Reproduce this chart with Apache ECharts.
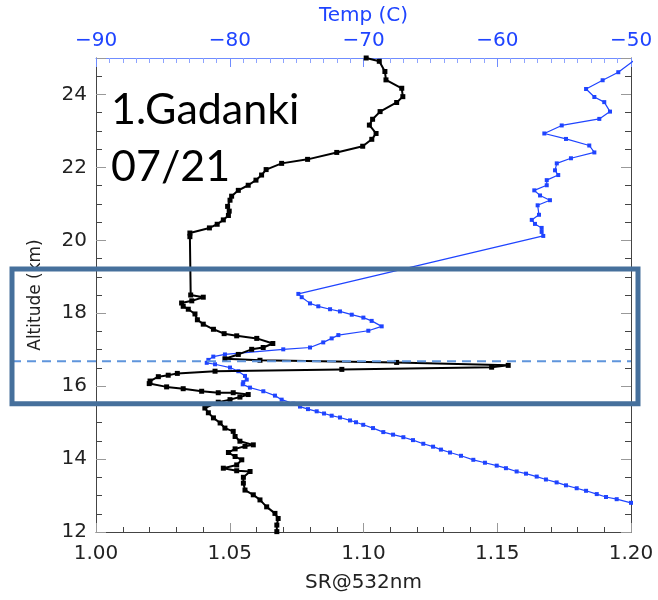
<!DOCTYPE html>
<html>
<head>
<meta charset="utf-8">
<script src="https://cdn.jsdelivr.net/npm/echarts@6/dist/echarts.min.js"></script>
<style>
html, body { margin: 0; padding: 0; background: #fff; }
#result { width: 658px; height: 600px; }
</style>
</head>
<body>
<div id="result"></div>
<script>
// SR@532nm profile (black)
var srValues = [1.1010, 1.1059, 1.1080, 1.1084, 1.1143, 1.1147, 1.1124, 1.1062, 1.1034, 1.1022,
	1.1047, 1.1031, 1.0997, 1.0900, 1.0791, 1.0694, 1.0636, 1.0619, 1.0598, 1.0569,
	1.0532, 1.0507, 1.0501, 1.0492, 1.0498, 1.0495, 1.0476, 1.0453, 1.0424, 1.0351,
	1.0351, 1.0354, 1.0401, 1.0358, 1.0320, 1.0326, 1.0345, 1.0370, 1.0379, 1.0401,
	1.0439, 1.0479, 1.0526, 1.0601, 1.0661, 1.0625, 1.0582, 1.0532, 1.0482, 1.0613,
	1.1124, 1.1541, 1.1479, 1.0919, 1.0445, 1.0304, 1.0270, 1.0233, 1.0202, 1.0199,
	1.0264, 1.0326, 1.0395, 1.0457, 1.0513, 1.0569, 1.0538, 1.0501, 1.0457, 1.0407,
	1.0420, 1.0439, 1.0464, 1.0482, 1.0513, 1.0520, 1.0538, 1.0588, 1.0557, 1.0520,
	1.0495, 1.0520, 1.0545, 1.0526, 1.0476, 1.0526, 1.0576, 1.0551, 1.0551, 1.0557,
	1.0588, 1.0613, 1.0638, 1.0669, 1.0681, 1.0676, 1.0676];
var srAltitudes = [25.00, 24.91, 24.63, 24.40, 24.17, 23.94, 23.78, 23.53, 23.32, 23.16,
	22.93, 22.77, 22.58, 22.41, 22.22, 22.11, 21.94, 21.79, 21.65, 21.51,
	21.37, 21.21, 21.10, 20.93, 20.80, 20.68, 20.56, 20.44, 20.34, 20.20,
	20.10, 18.50, 18.44, 18.34, 18.28, 18.19, 18.11, 17.98, 17.82, 17.70,
	17.56, 17.44, 17.38, 17.31, 17.17, 17.06, 17.01, 16.87, 16.75, 16.71,
	16.65, 16.57, 16.52, 16.46, 16.41, 16.35, 16.30, 16.26, 16.14, 16.07,
	15.98, 15.93, 15.86, 15.82, 15.82, 15.77, 15.70, 15.63, 15.56, 15.40,
	15.27, 15.13, 14.99, 14.85, 14.76, 14.62, 14.49, 14.39, 14.35, 14.28,
	14.18, 14.07, 13.98, 13.84, 13.75, 13.68, 13.66, 13.50, 13.34, 13.15,
	13.02, 12.88, 12.69, 12.51, 12.37, 12.19, 12.01];

// Temperature profile (blue)
var tempValues = [-49.7, -50.95, -52.12, -53.36, -52.74, -52.00, -51.57, -52.37, -55.18, -56.48,
	-54.86, -53.12, -52.74, -54.49, -55.55, -55.68, -55.44, -56.30, -56.30, -57.23,
	-56.80, -56.06, -56.98, -56.88, -57.42, -57.18, -56.68, -56.68, -56.56, -74.87,
	-74.62, -74.00, -73.38, -72.50, -71.76, -70.88, -70.01, -69.39, -68.64, -69.64,
	-71.88, -72.38, -73.01, -74.00, -76.00, -80.36, -81.23, -81.60, -81.72, -81.10,
	-79.98, -79.36, -78.86, -78.73, -78.99, -79.03, -78.49, -77.49, -76.62, -76.12,
	-75.25, -74.75, -74.15, -73.50, -72.95, -72.38, -71.76, -71.01, -70.56, -70.02,
	-69.29, -68.52, -67.79, -67.02, -66.30, -65.53, -64.80, -64.21, -63.53, -62.71,
	-61.79, -60.92, -60.04, -59.35, -58.55, -57.85, -57.05, -56.36, -55.56, -54.86,
	-54.06, -53.36, -52.56, -51.87, -51.07, -50.00];
var tempAltitudes = [24.95, 24.61, 24.39, 24.15, 23.93, 23.79, 23.53, 23.33, 23.15, 22.93,
	22.78, 22.60, 22.41, 22.25, 22.11, 21.92, 21.79, 21.65, 21.51, 21.37,
	21.23, 21.10, 20.96, 20.70, 20.56, 20.45, 20.34, 20.23, 20.12, 18.53,
	18.44, 18.27, 18.19, 18.11, 18.05, 17.96, 17.88, 17.79, 17.64, 17.52,
	17.40, 17.31, 17.20, 17.06, 17.01, 16.87, 16.81, 16.72, 16.64, 16.60,
	16.51, 16.41, 16.28, 16.18, 16.11, 16.05, 15.96, 15.86, 15.74, 15.63,
	15.52, 15.44, 15.37, 15.31, 15.25, 15.19, 15.14, 15.06, 15.01, 14.94,
	14.85, 14.74, 14.67, 14.60, 14.52, 14.42, 14.34, 14.26, 14.18, 14.09,
	13.98, 13.90, 13.82, 13.75, 13.66, 13.60, 13.52, 13.44, 13.36, 13.28,
	13.20, 13.13, 13.04, 12.96, 12.90, 12.80];

// annotations: highlighted layer and tropopause level
var boxAltitudes = [19.21, 15.52];
var tropopauseAltitude = 16.68;

function pairs(xs, ys) {
	var out = [];
	for (var i = 0; i < xs.length; i++) out.push([xs[i], ys[i]]);
	return out;
}

var myChart = echarts.init(document.getElementById('result'));

var labelFont = 'DejaVu Sans';
var blue = '#1f44ff';

var option = {
	animation: false,
	grid: { left: 96, right: 27, top: 58, bottom: 68 },
	xAxis: [{
			type: 'value',
			position: 'bottom',
			min: 1.0,
			max: 1.2,
			interval: 0.05,
			name: 'SR@532nm',
			nameLocation: 'middle',
			nameGap: 41,
			nameTextStyle: { fontSize: 20, fontFamily: labelFont, color: '#222' },
			axisLine: { lineStyle: { color: '#444', width: 1 } },
			axisTick: { inside: true, length: 9, lineStyle: { color: '#999' } },
			minorTick: { show: true, splitNumber: 5, length: 5, lineStyle: { color: '#444' } },
			axisLabel: {
				fontSize: 20, fontFamily: labelFont, color: '#222', margin: 12,
				formatter: function (v) { return v.toFixed(2); }
			},
			splitLine: { show: false }
		},
		{
			type: 'value',
			position: 'top',
			min: -90,
			max: -50,
			interval: 10,
			name: 'Temp (C)',
			nameLocation: 'middle',
			nameGap: 21,
			nameTextStyle: { fontSize: 20, fontFamily: labelFont, color: blue },
			axisLine: { lineStyle: { color: '#6f8cff', width: 1 } },
			axisTick: { inside: true, length: 9, lineStyle: { color: '#6f8cff' } },
			minorTick: { show: true, splitNumber: 10, length: 5, lineStyle: { color: '#8ea4ff' } },
			axisLabel: {
				fontSize: 20, fontFamily: labelFont, color: blue, margin: 7,
				formatter: function (v) { return String(v).replace('-', '\u2212'); }
			},
			splitLine: { show: false }
		}
	],
	yAxis: [{
			type: 'value',
			position: 'left',
			min: 12,
			max: 25,
			interval: 2,
			name: 'Altitude (km)',
			nameLocation: 'middle',
			nameGap: 52,
			nameTextStyle: { fontSize: 17, fontFamily: labelFont, color: '#222' },
			axisLine: { show: true, lineStyle: { color: '#444' } },
			axisTick: { show: true, inside: true, length: 10, lineStyle: { color: '#999' } },
			minorTick: { show: true, splitNumber: 4, length: 6, lineStyle: { color: '#444' } },
			axisLabel: { fontSize: 20, fontFamily: labelFont, color: '#222', margin: 9, showMaxLabel: false },
			splitLine: { show: false }
		},
		{
			type: 'value',
			position: 'right',
			min: 12,
			max: 25,
			interval: 2,
			axisLine: { show: true, lineStyle: { color: '#444' } },
			axisTick: { show: true, inside: true, length: 10, lineStyle: { color: '#999' } },
			minorTick: { show: true, splitNumber: 4, length: 6, lineStyle: { color: '#444' } },
			axisLabel: { show: false },
			splitLine: { show: false }
		}
	],
	series: [{
			type: 'line',
			xAxisIndex: 0,
			yAxisIndex: 0,
			data: pairs(srValues, srAltitudes),
			symbol: 'rect',
			symbolSize: 5,
			lineStyle: { color: '#000', width: 2 },
			itemStyle: { color: '#000' },
			z: 3
		},
		{
			type: 'line',
			xAxisIndex: 1,
			yAxisIndex: 0,
			data: pairs(tempValues, tempAltitudes),
			symbol: 'rect',
			symbolSize: 4,
			lineStyle: { color: blue, width: 1.2 },
			itemStyle: { color: blue },
			z: 2
		}
	]
};

myChart.setOption(option);

/*注释框和虚线*/
var yTop = myChart.convertToPixel({ yAxisIndex: 0 }, boxAltitudes[0]);
var yBot = myChart.convertToPixel({ yAxisIndex: 0 }, boxAltitudes[1]);
var yTrop = myChart.convertToPixel({ yAxisIndex: 0 }, tropopauseAltitude);
var xRight = myChart.convertToPixel({ xAxisIndex: 0 }, 1.2);

myChart.setOption({
	graphic: [{
			type: 'line',
			z: 50,
			shape: { x1: 12, y1: yTrop, x2: xRight, y2: yTrop },
			style: { stroke: '#5f95dc', lineWidth: 2, lineDash: [9, 6] }
		},
		{
			type: 'rect',
			z: 60,
			shape: { x: 12, y: yTop, width: xRight + 7 - 12, height: yBot - yTop },
			style: { fill: 'none', stroke: '#46709c', lineWidth: 5 }
		},
		{
			type: 'text',
			z: 70,
			left: 111,
			top: 82,
			style: {
				text: '1.Gadanki\n07/21',
				font: '43px Lato',
				lineHeight: 57,
				fill: '#000'
			}
		}
	]
});
</script>
</body>
</html>
